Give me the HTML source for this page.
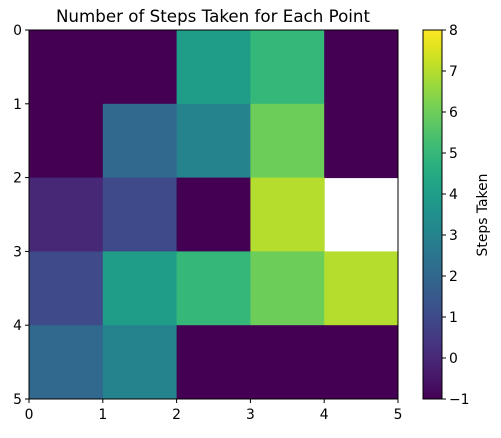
<!DOCTYPE html>
<html><head><meta charset="utf-8"><style>
body{margin:0;background:#fff;}
svg text{font-family:"DejaVu Sans","Liberation Sans",sans-serif;fill:#000;}
</style></head><body>
<svg id="chart" width="501" height="433" xmlns="http://www.w3.org/2000/svg">
<defs><linearGradient id="cbg" x1="0" y1="1" x2="0" y2="0"></linearGradient></defs>
<text x="213" y="22" font-size="16.7" text-anchor="middle">Number of Steps Taken for Each Point</text>
<g id="cells"></g>
<rect x="29" y="30" width="369" height="369" fill="none" stroke="#000" stroke-width="1"/>
<g id="axes"></g>
<rect x="423" y="30" width="19" height="369" fill="url(#cbg)"/>
<rect x="423" y="30" width="19" height="369" fill="none" stroke="#000" stroke-width="1"/>
<text transform="translate(487,215) rotate(-90)" font-size="13.9" text-anchor="middle">Steps Taken</text>
</svg>
<script>
const grid = [
  [-1,-1,4,5,-1],
  [-1,2,3,6,-1],
  [0,1,-1,7,null],
  [1,4,5,6,7],
  [2,3,-1,-1,-1]
];
const xTicks = [0,1,2,3,4,5];
const yTicks = [0,1,2,3,4,5];
const cbTicks = [-1,0,1,2,3,4,5,6,7,8];
const vmin = -1, vmax = 8;
const V = ["#440154","#481a6c","#472f7d","#414487","#39568c","#31688e","#2a788e","#23888e","#1f988b","#22a884","#35b779","#54c568","#7ad151","#a5db36","#d2e21b","#fde725"];
function hex(c){return [1,3,5].map(i=>parseInt(c.substr(i,2),16));}
function viridis(t){t=Math.max(0,Math.min(1,t));const p=t*(V.length-1);const i=Math.min(Math.floor(p),V.length-2);const f=p-i;const a=hex(V[i]),b=hex(V[i+1]);return "rgb("+a.map((v,k)=>Math.round(v+(b[k]-v)*f)).join(",")+")";}
const X0=29,X1=398,Y0=30,Y1=399;
const sx=v=>X0+(v-0)/5*(X1-X0);
const sy=v=>Y0+(v-0)/5*(Y1-Y0);
const cy=v=>Y1-(v-vmin)/(vmax-vmin)*(Y1-Y0);
const NS="http://www.w3.org/2000/svg";
const cells=document.getElementById("cells");
grid.forEach((row,r)=>row.forEach((v,c)=>{
  if(v===null)return;
  const e=document.createElementNS(NS,"rect");
  
  
  e.setAttribute("x",sx(c));e.setAttribute("y",sy(r));
  e.setAttribute("width",sx(c+1)-sx(c)+0.5);e.setAttribute("height",sy(r+1)-sy(r)+0.5);
  e.setAttribute("fill",viridis((v-vmin)/(vmax-vmin)));
  cells.appendChild(e);
}));
const g=document.getElementById("cbg");
for(let i=0;i<=20;i++){const s=document.createElementNS(NS,"stop");s.setAttribute("offset",i/20);s.setAttribute("stop-color",viridis(i/20));g.appendChild(s);}
const axes=document.getElementById("axes");
function line(x1,y1,x2,y2){const l=document.createElementNS(NS,"line");l.setAttribute("x1",x1);l.setAttribute("y1",y1);l.setAttribute("x2",x2);l.setAttribute("y2",y2);l.setAttribute("stroke","#000");


axes.appendChild(l);}
function txt(x,y,s,anchor){const t=document.createElementNS(NS,"text");t.setAttribute("x",x);t.setAttribute("y",y);t.setAttribute("font-size","13.9");t.setAttribute("text-anchor",anchor);t.textContent=s;


axes.appendChild(t);}
xTicks.forEach(v=>{line(sx(v),Y1,sx(v),Y1+4);txt(sx(v),Y1+20,String(v),"middle");});
yTicks.forEach(v=>{line(X0-4,sy(v),X0,sy(v));txt(X0-7,sy(v)+5,String(v),"end");});
cbTicks.forEach(v=>{line(442,cy(v),446,cy(v));txt(449,cy(v)+5,v<0?"\u2212"+Math.abs(v):String(v),"start");});
</script>
</body></html>
